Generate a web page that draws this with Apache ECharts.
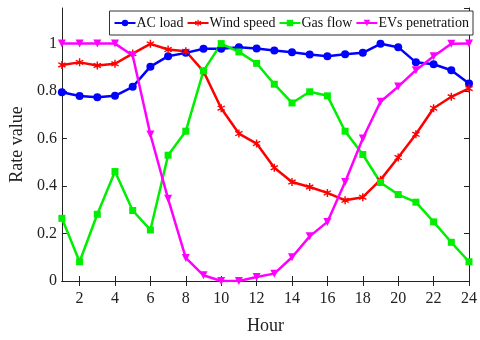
<!DOCTYPE html>
<html>
<head>
<meta charset="utf-8">
<script src="https://cdn.jsdelivr.net/npm/echarts@6/dist/echarts.min.js"></script>
<style>
  html, body { margin: 0; padding: 0; background: #fff; }
  #chart { width: 480px; height: 340px; }
</style>
</head>
<body>
<div id="chart"></div>
<script>
const hours = ['1', '2', '3', '4', '5', '6', '7', '8', '9', '10', '11', '12',
  '13', '14', '15', '16', '17', '18', '19', '20', '21', '22', '23', '24'];
const acLoad = [0.795, 0.779, 0.774, 0.78, 0.818, 0.903, 0.947, 0.961, 0.978, 0.978, 0.985, 0.979,
  0.971, 0.964, 0.954, 0.947, 0.955, 0.961, 0.999, 0.985, 0.921, 0.913, 0.888, 0.832];
const windSpeed = [0.91, 0.921, 0.908, 0.915, 0.958, 0.999, 0.975, 0.968, 0.883, 0.728, 0.621, 0.579,
  0.477, 0.417, 0.396, 0.371, 0.34, 0.353, 0.426, 0.52, 0.618, 0.728, 0.776, 0.811];
const gasFlow = [0.264, 0.081, 0.281, 0.461, 0.297, 0.215, 0.53, 0.631, 0.885, 1.0, 0.965, 0.917,
  0.829, 0.75, 0.797, 0.78, 0.631, 0.533, 0.415, 0.364, 0.332, 0.249, 0.163, 0.081];
const evPen = [1.0, 1.0, 1.0, 1.0, 0.95, 0.617, 0.346, 0.097, 0.024, 0.0, 0.0, 0.017,
  0.031, 0.1, 0.188, 0.249, 0.417, 0.6, 0.755, 0.819, 0.888, 0.947, 0.999, 1.0];

const myChart = echarts.init(document.getElementById('chart'));
const font = 'Liberation Serif';
// 星号形状
const asterisk = 'path://M4.2,0 H5.8 V3.2 L8.6,1.6 L9.4,3 L6.6,4.6 V5.4 L9.4,7 L8.6,8.4 L5.8,6.8 V10 H4.2 V6.8 L1.4,8.4 L0.6,7 L3.4,5.4 V4.6 L0.6,3 L1.4,1.6 L4.2,3.2 Z';
const evenOnly = (i) => i % 2 === 1;

function line(name, data, color, symbol, size, rotate) {
  return {
    name: name,
    type: 'line',
    data: data,
    symbol: symbol,
    symbolSize: size,
    symbolRotate: rotate || 0,
    showAllSymbol: true,
    lineStyle: { color: color, width: 2.5 },
    itemStyle: { color: color },
    emphasis: { disabled: true },
  };
}

myChart.setOption({
  animation: false,
  grid: { left: 47, right: 6, top: 8, bottom: 56 },
  legend: {
    top: 11,
    right: 7,
    itemGap: 3,
    itemWidth: 21,
    itemHeight: 8,
    padding: [5, 4, 5, 4],
    borderColor: '#333',
    borderWidth: 1,
    backgroundColor: '#fff',
    textStyle: { fontFamily: font, fontSize: 14, color: '#111', padding: [0, 0, 0, -4] },
    data: ['AC load', 'Wind speed', 'Gas flow', 'EVs penetration'],
  },
  xAxis: [
    {
      type: 'category',
      data: hours,
      boundaryGap: false,
      name: 'Hour',
      nameLocation: 'middle',
      nameGap: 36,
      nameTextStyle: { fontFamily: font, fontSize: 18, color: '#222' },
      axisLine: { lineStyle: { color: '#222', width: 1 } },
      axisTick: { inside: true, length: 5, interval: evenOnly, lineStyle: { color: '#222' } },
      axisLabel: { interval: evenOnly, fontFamily: font, fontSize: 16, color: '#222', margin: 10 },
      splitLine: { show: false },
    },
    {
      type: 'category',
      data: hours,
      boundaryGap: false,
      position: 'top',
      axisLine: { lineStyle: { color: '#222', width: 1 } },
      axisTick: { inside: true, length: 5, interval: evenOnly, lineStyle: { color: '#222' } },
      axisLabel: { show: false },
    },
  ],
  yAxis: [
    {
      type: 'value',
      min: 0,
      max: 1.15,
      interval: 0.2,
      name: 'Rate value',
      nameLocation: 'middle',
      nameGap: 29,
      nameTextStyle: { fontFamily: font, fontSize: 18, color: '#222' },
      axisLine: { show: true, lineStyle: { color: '#222', width: 1 } },
      axisTick: { show: true, inside: true, length: 5, lineStyle: { color: '#222' } },
      axisLabel: { fontFamily: font, fontSize: 16, color: '#222', margin: 5, showMaxLabel: false,
        formatter: (v) => (v === 0 || v === 1 ? String(v) : v.toFixed(1)) },
      splitLine: { show: false },
    },
    {
      type: 'value',
      min: 0,
      max: 1.15,
      interval: 0.2,
      position: 'right',
      axisLine: { show: true, lineStyle: { color: '#222', width: 1 } },
      axisTick: { show: true, inside: true, length: 5, lineStyle: { color: '#222' } },
      axisLabel: { show: false },
      splitLine: { show: false },
    },
  ],
  series: [
    line('AC load', acLoad, '#0000ff', 'circle', 8),
    line('Wind speed', windSpeed, '#ff0000', asterisk, 8),
    line('Gas flow', gasFlow, '#00ee00', 'rect', 7),
    line('EVs penetration', evPen, '#ff00ff', 'triangle', 8, 180),
  ],
});
window.onresize = function () {
  myChart.resize();
};
</script>
</body>
</html>
